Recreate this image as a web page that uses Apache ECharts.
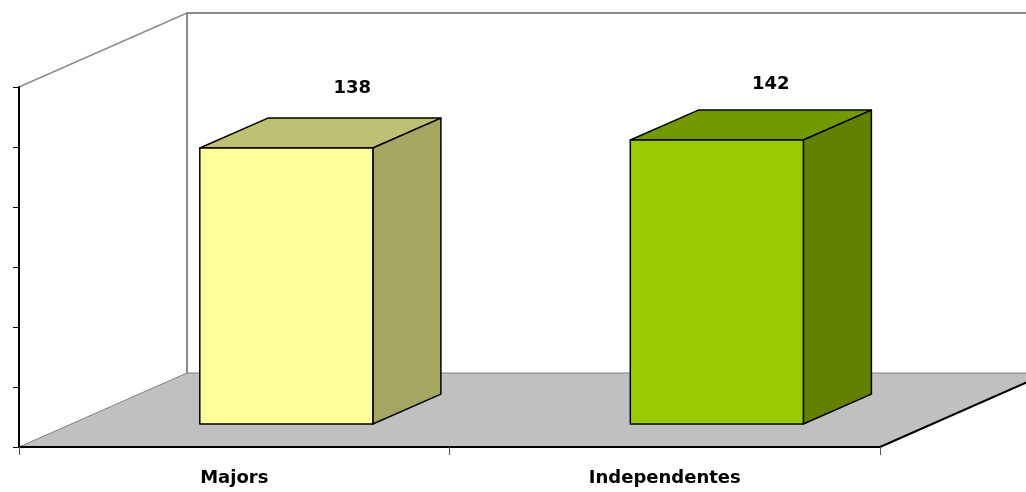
<!DOCTYPE html>
<html>
<head>
<meta charset="utf-8">
<style>html,body{margin:0;padding:0;background:#fff}#c{width:1026px;height:492px}</style>
<script src="https://cdn.jsdelivr.net/npm/echarts@6/dist/echarts.min.js"></script>
</head>
<body>
<div id="c"></div>
<script>
const categories = ['Majors', 'Independentes'];
const values = [138, 142];
const frontColors = ['#FFFF99', '#99CC00'];
const topColors = ['#BFBF73', '#739900'];
const sideColors = ['#A6A663', '#638000'];
const axisTicks = { min: 0, max: 180, interval: 30 };

const DEPTH_X = 168, DEPTH_Y = -74;
const BAR_WIDTH_FRACTION = 0.402;
const BAR_DEPTH_START = 0.31;
const BAR_DEPTH = 0.405;
const LABEL_SHIFT = [[66, -60], [54, -56]];
const textFont = 'bold 18px "DejaVu Sans", Verdana, sans-serif';

function renderRoom(params) {
  const g = params.coordSys;
  const x0 = g.x, x1 = g.x + g.width, yb = g.y + g.height, yt = g.y;
  const bx0 = x0 + DEPTH_X, bx1 = x1 + DEPTH_X, byb = yb + DEPTH_Y, byt = yt + DEPTH_Y;
  const wall = { stroke: '#8C8C8C', lineWidth: 2, fill: null };
  return {
    type: 'group',
    children: [
      { type: 'polygon', shape: { points: [[x0, yb], [x1, yb], [bx1, byb], [bx0, byb]] },
        style: { fill: '#C0C0C0', stroke: '#808080', lineWidth: 1 } },
      { type: 'line', shape: { x1: x1, y1: yb, x2: bx1, y2: byb }, style: { stroke: '#000', lineWidth: 2 } },
      { type: 'polyline', shape: { points: [[bx1, byt], [bx0, byt], [bx0, byb]] }, style: wall },
      { type: 'line', shape: { x1: x0, y1: yt, x2: bx0, y2: byt }, style: { stroke: '#8C8C8C', lineWidth: 1.5 } }
    ]
  };
}

function renderBar(params, api) {
  const i = api.value(0);
  const base = api.coord([i, 0]);
  const top = api.coord([i, api.value(1)]);
  const w = api.size([1, 0])[0] * BAR_WIDTH_FRACTION;
  const ox = DEPTH_X * BAR_DEPTH_START, oy = DEPTH_Y * BAR_DEPTH_START;
  const dx = DEPTH_X * BAR_DEPTH, dy = DEPTH_Y * BAR_DEPTH;
  const l = base[0] - w / 2 + ox, r = l + w, b = base[1] + oy, t = top[1] + oy;
  const edge = { stroke: '#000', lineWidth: 1.5, lineJoin: 'round' };
  return {
    type: 'group',
    children: [
      { type: 'polygon', shape: { points: [[l, t], [r, t], [r + dx, t + dy], [l + dx, t + dy]] },
        style: Object.assign({ fill: topColors[i] }, edge) },
      { type: 'polygon', shape: { points: [[r, t], [r + dx, t + dy], [r + dx, b + dy], [r, b]] },
        style: Object.assign({ fill: sideColors[i] }, edge) },
      { type: 'rect', shape: { x: l, y: t, width: w, height: b - t },
        style: Object.assign({ fill: frontColors[i] }, edge) },
      { type: 'text', x: l + w / 2 + LABEL_SHIFT[i][0], y: t + LABEL_SHIFT[i][1],
        style: { text: String(api.value(1)), font: textFont, fill: '#000', align: 'center', verticalAlign: 'middle' } }
    ]
  };
}

const chart = echarts.init(document.getElementById('c'), null, { renderer: 'canvas' });
chart.setOption({
  animation: false,
  backgroundColor: '#fff',
  grid: { left: 19, top: 87, width: 861, height: 360, containLabel: false },
  xAxis: {
    type: 'category', data: categories, z: 5,
    axisLine: { show: true, onZero: false, lineStyle: { color: '#000', width: 2 } },
    axisTick: { show: true, length: 8, alignWithLabel: false, lineStyle: { color: '#555', width: 1 } },
    axisLabel: { color: '#000', fontFamily: '"DejaVu Sans", Verdana, sans-serif', fontWeight: 'bold', fontSize: 18, margin: 22 },
    splitLine: { show: false }
  },
  yAxis: {
    type: 'value', min: axisTicks.min, max: axisTicks.max, interval: axisTicks.interval, z: 5,
    axisLine: { show: true, lineStyle: { color: '#000', width: 2 } },
    axisTick: { show: true, length: 6, lineStyle: { color: '#000', width: 1 } },
    axisLabel: { show: false },
    splitLine: { show: false }
  },
  series: [
    { type: 'custom', silent: true, z: 1, renderItem: renderRoom, data: [[0, 0]], encode: { x: 0, y: 1 } },
    { type: 'custom', silent: true, z: 3, renderItem: renderBar,
      data: values.map((v, i) => [i, v]), encode: { x: 0, y: 1 } }
  ]
});
</script>
</body>
</html>
